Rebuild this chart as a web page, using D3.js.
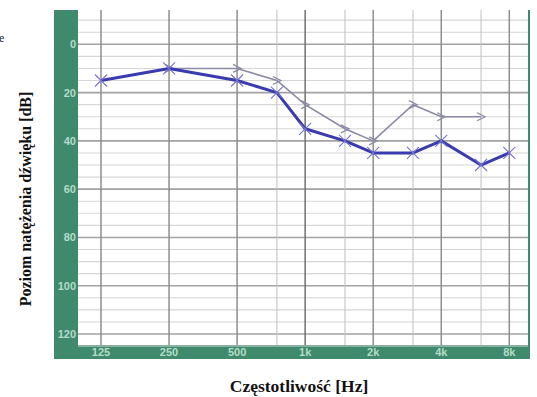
<!DOCTYPE html>
<html>
<head>
<meta charset="utf-8">
<script src="https://cdn.jsdelivr.net/npm/d3@7"></script>
<style>
  html, body { margin: 0; padding: 0; background: #fff; }
  svg { display: block; }
</style>
</head>
<body>
<svg id="chart" width="537" height="397"></svg>
<script>
// Audiogram data
const frequencies = [125, 250, 500, 750, 1000, 1500, 2000, 3000, 4000, 6000, 8000];
const octaveTicks = [125, 250, 500, 1000, 2000, 4000, 8000];
const octaveLabels = ["125", "250", "500", "1k", "2k", "4k", "8k"];
const levelTicks = [0, 20, 40, 60, 80, 100, 120];
// Air conduction thresholds (thick line, x markers)
const airFreq = [125, 250, 500, 750, 1000, 1500, 2000, 3000, 4000, 6000, 8000];
const airLevel = [15, 10, 15, 20, 35, 40, 45, 45, 40, 50, 45];
// Bone conduction thresholds (thin line, > markers)
const boneFreq = [250, 500, 750, 1000, 1500, 2000, 3000, 4000, 6000];
const boneLevel = [10, 10, 15, 25, 35, 40, 25, 30, 30];

const svg = d3.select("#chart");

const plot = { left: 78, right: 528, top: 10, bottom: 345 };
const frame = { left: 54, right: 530, top: 10, bottom: 359 };
const green = "#3f8a6c";
const tickColor = "#b4dcc8";

const x = d3.scaleLog().base(2).domain([125, 8000]).range([101, 509.3]);
const y = d3.scaleLinear().domain([0, 120]).range([44.3, 334]);

// green frame
svg.append("rect").attr("x", frame.left).attr("y", frame.top)
  .attr("width", frame.right - frame.left).attr("height", frame.bottom - frame.top)
  .attr("fill", green);
svg.append("rect").attr("x", plot.left).attr("y", plot.top)
  .attr("width", plot.right - plot.left).attr("height", plot.bottom - plot.top)
  .attr("fill", "#ffffff");

const grid = svg.append("g");
// horizontal grid every 5 dB
const minorLevels = d3.range(-10, 126, 5);
grid.selectAll("line.h").data(minorLevels).enter().append("line")
  .attr("x1", plot.left).attr("x2", plot.right)
  .attr("y1", d => y(d)).attr("y2", d => y(d))
  .attr("stroke", d => d % 20 === 0 ? "#a2a2a2" : "#d6d6d6")
  .attr("stroke-width", d => d % 20 === 0 ? 1.6 : 1.1);

// vertical grid
grid.selectAll("line.v").data(frequencies).enter().append("line")
  .attr("y1", plot.top).attr("y2", plot.bottom)
  .attr("x1", d => x(d)).attr("x2", d => x(d))
  .attr("stroke", d => octaveTicks.includes(d) ? (d === 1000 ? "#707070" : "#8e8e8e") : "#c4c4c4")
  .attr("stroke-width", d => octaveTicks.includes(d) ? 1.5 : 1.1);

// tick labels
svg.append("g").selectAll("text").data(levelTicks).enter().append("text")
  .attr("x", 76).attr("y", d => y(d) + 4)
  .attr("text-anchor", "end")
  .attr("font-family", "Liberation Sans, Arial, sans-serif")
  .attr("font-weight", "bold").attr("font-size", 11)
  .attr("fill", tickColor)
  .text(d => d);

svg.append("g").selectAll("text").data(octaveTicks).enter().append("text")
  .attr("x", d => x(d)).attr("y", 356)
  .attr("text-anchor", "middle")
  .attr("font-family", "Liberation Sans, Arial, sans-serif")
  .attr("font-weight", "bold").attr("font-size", 11)
  .attr("fill", tickColor)
  .text((d, i) => octaveLabels[i]);

// bone conduction line
const bone = boneFreq.map((f, i) => [f, boneLevel[i]]);
const air = airFreq.map((f, i) => [f, airLevel[i]]);
const line = d3.line().x(d => x(d[0])).y(d => y(d[1]));

svg.append("path").datum(bone).attr("d", line)
  .attr("fill", "none").attr("stroke", "#8a8aa6").attr("stroke-width", 1.6);
svg.append("g").selectAll("path").data(bone).enter().append("path")
  .attr("d", d => {
    const cx = x(d[0]), cy = y(d[1]);
    return `M${cx - 4},${cy - 4}L${cx + 4},${cy}L${cx - 4},${cy + 4}`;
  })
  .attr("fill", "none").attr("stroke", "#8a8aa6").attr("stroke-width", 1.3);

// air conduction line
svg.append("path").datum(air).attr("d", line)
  .attr("fill", "none").attr("stroke", "#3b3bb0").attr("stroke-width", 3)
  .attr("stroke-linejoin", "round");
svg.append("g").selectAll("path").data(air).enter().append("path")
  .attr("d", d => {
    const cx = x(d[0]), cy = y(d[1]), r = 6;
    return `M${cx - r},${cy - r}L${cx + r},${cy + r}M${cx - r},${cy + r}L${cx + r},${cy - r}`;
  })
  .attr("fill", "none").attr("stroke", "#7474cc").attr("stroke-width", 1.1);

// axis titles
svg.append("text")
  .attr("transform", "translate(31,199) rotate(-90)")
  .attr("text-anchor", "middle")
  .attr("font-family", "Liberation Serif, Times New Roman, serif")
  .attr("font-weight", "bold").attr("font-size", 16)
  .attr("fill", "#111")
  .text("Poziom natężenia dźwięku [dB]");

svg.append("text")
  .attr("x", 299).attr("y", 392)
  .attr("text-anchor", "middle")
  .attr("font-family", "Liberation Serif, Times New Roman, serif")
  .attr("font-weight", "bold").attr("font-size", 17.5)
  .attr("fill", "#111")
  .text("Częstotliwość [Hz]");

svg.append("text")
  .attr("x", -1).attr("y", 42)
  .attr("font-family", "Liberation Serif, Times New Roman, serif")
  .attr("font-size", 12)
  .attr("fill", "#222")
  .text("e");
</script>
</body>
</html>
